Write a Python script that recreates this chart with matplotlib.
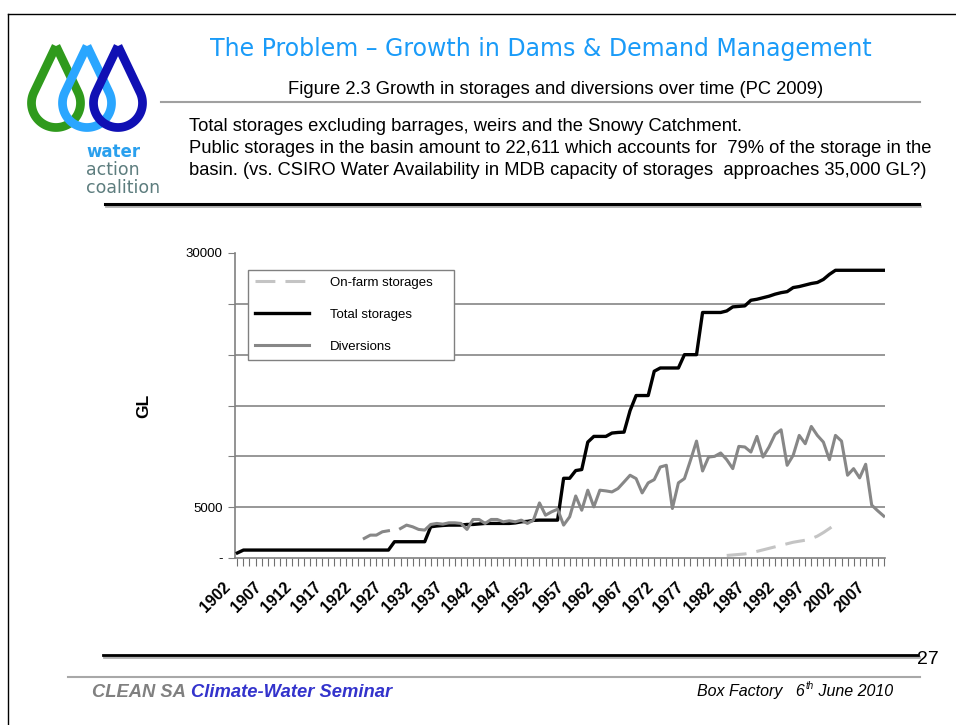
import numpy as np
import matplotlib
matplotlib.use("Agg")
import matplotlib.pyplot as plt
import matplotlib.transforms as mtransforms
from matplotlib.path import Path
from matplotlib.patches import PathPatch

# ---- data (GL) ----
years = np.arange(1902, 2010)

total_storages = [
    500,
    780, 780, 780, 780, 780, 780, 780, 780, 780, 780,          # 1903-1912
    780, 780, 780, 780, 780, 780, 780, 780, 780, 780,          # 1913-1922
    780, 780, 780, 780, 780,                                   # 1923-1927
    1600, 1600, 1600, 1600, 1600, 1600,                        # 1928-1933
    3070, 3150, 3200, 3235, 3235, 3235, 3300,                  # 1934-1940
    3300, 3350, 3400, 3400, 3400, 3400, 3400, 3450, 3560, 3600,  # 1941-1950
    3700, 3725, 3725, 3725, 3725,                              # 1951-1955
    7840, 7840, 8600, 8700, 11400,                             # 1956-1960
    11960, 11960, 11960, 12290, 12350, 12380, 14500, 15980, 15980, 15980,  # 1961-1970
    18370, 18690, 18690, 18690, 18690, 20000, 20000, 20000, 24150, 24150,  # 1971-1980
    24150, 24150, 24300, 24700, 24750, 24800, 25350, 25450, 25600, 25750,  # 1981-1990
    25950, 26100, 26200, 26600, 26700, 26850, 27000, 27100, 27400, 27900,  # 1991-2000
    28300, 28300, 28300, 28300, 28300, 28300, 28300, 28300, 28300,        # 2001-2009
]

div_years = np.arange(1923, 2010)
diversions = [
    1930, 2250, 2250, 2580, 2680, np.nan, 2900,                # 1923-1929
    3235, 3070, 2810, 2745, 3300, 3400, 3330, 3460, 3460, 3400,  # 1930-1939
    2810, 3790, 3790, 3400, 3790, 3790, 3560, 3660, 3560, 3725,  # 1940-1949
    3400, 3725, 5420, 4210, 4540, 4800, 3235, 4050, 6100, 4700,  # 1950-1959
    6670, 5030, 6670, 6600, 6500, 6830, 7480, 8140, 7810, 6400,  # 1960-1969
    7390, 7710, 8950, 9120, 4870, 7390, 7810, 9610, 11500, 8560,  # 1970-1979
    9930, 10000, 10330, 9670, 8790, 10980, 10920, 10420, 11960, 9930,  # 1980-1989
    10920, 12160, 12610, 9120, 10100, 12060, 11240, 12940, 12060, 11400,  # 1990-1999
    9670, 12060, 11500, 8140, 8790, 7880, 9220, 5200, 4640, 4120,  # 2000-2009
]

farm_years = np.arange(1983, 2002)
onfarm_storages = [250, 300, 350, 400, 500, 650, 800, 950, 1100, 1250,
                   1400, 1550, 1650, 1750, 1900, 2150, 2500, 2900, 3330]

label_years = np.arange(1902, 2008, 5)
y_ticks = [0, 5000, 10000, 15000, 20000, 25000, 30000]
y_labels = ['-', '5000', '', '', '', '', '30000']

title = "The Problem \u2013 Growth in Dams & Demand Management"
subtitle = "Figure 2.3 Growth in storages and diversions over time (PC 2009)"
body = ["Total storages excluding barrages, weirs and the Snowy Catchment.",
        "Public storages in the basin amount to 22,611 which accounts for  79% of the storage in the",
        "basin. (vs. CSIRO Water Availability in MDB capacity of storages  approaches 35,000 GL?)"]

arial = 'Liberation Sans'

fig = plt.figure(figsize=(9.56, 7.25), dpi=100)

# slide layer in pixel coordinates
bg = fig.add_axes([0, 0, 1, 1])
bg.set_xlim(0, 956)
bg.set_ylim(725, 0)
bg.axis('off')

bg.plot([8, 8], [14, 725], color='black', lw=1)
bg.plot([8, 956], [14, 14], color='black', lw=1)

# logo: three interlocking drops (y grows downwards here)
def drop(cx, cy, r, tip):
    phi = np.arccos(r / (cy - tip))
    ang = np.linspace(np.pi / 2 - phi, np.pi / 2 + phi - 2 * np.pi, 90)
    xs = np.concatenate([[cx], cx + r * np.cos(ang), [cx]])
    ys = np.concatenate([[tip], cy - r * np.sin(ang), [tip]])
    return Path(np.column_stack([xs, ys]))

for cx, col in [(56, '#2f9a1c'), (87, '#2aa6ff'), (118, '#1010b4')]:
    bg.add_patch(PathPatch(drop(cx, 103, 24.5, 46), fill=False, edgecolor=col,
                           lw=6.3, joinstyle='miter'))

bg.text(86, 157, "water", color='#2aa0ee', fontsize=12, fontweight='bold',
        family='DejaVu Sans', va='baseline')
bg.text(86, 175, "action", color='#5d7d7e', fontsize=12.5, family='DejaVu Sans', va='baseline')
bg.text(86, 193, "coalition", color='#5d7d7e', fontsize=12.5, family='DejaVu Sans', va='baseline')

bg.text(541, 56, title, color='#1a9bf8', fontsize=17, family='DejaVu Sans',
        ha='center', va='baseline')
bg.text(556, 94, subtitle, fontsize=13.2, family=arial, ha='center', va='baseline')
bg.plot([161, 920], [102, 102], color='#a0a0a0', lw=1.5)
for i, line in enumerate(body):
    bg.text(189, 131 + i * 22, line, fontsize=13.2, family=arial, va='baseline')
bg.plot([106, 920], [206, 206], color='#b0b0b0', lw=2)
bg.plot([105, 919], [204, 204], color='black', lw=2.2)

# footer
bg.plot([104, 919], [657, 657], color='#b0b0b0', lw=2)
bg.plot([103, 918], [655, 655], color='black', lw=2)
bg.text(917, 664, "27", fontsize=14, family=['Liberation Sans Narrow', arial], va='baseline')
bg.plot([68, 920], [677, 677], color='#a8a8a8', lw=1.5)
t1 = bg.text(92, 701, "CLEAN SA", color='#808080', fontsize=13.2, fontweight='bold',
             style='italic', family=arial, va='bottom')
bg.annotate("Climate-Water Seminar", xy=(1, 0), xycoords=t1, xytext=(3.5, 0),
            textcoords='offset points', color='#3333cc', fontsize=13.2,
            fontweight='bold', style='italic', family=arial, va='bottom')
t2 = bg.text(697, 699, "Box Factory   6", fontsize=11.5, style='italic', family=arial, va='bottom')
t3 = bg.annotate("th", xy=(1, 0.55), xycoords=t2, xytext=(0.5, 0), textcoords='offset points',
                 fontsize=7, style='italic', family=arial, va='bottom')
bg.annotate(" June 2010", xy=(1, 0), xycoords=(t3, t2), xytext=(0, 0),
            textcoords='offset points', fontsize=11.5, style='italic', family=arial, va='bottom')

# chart
ax = fig.add_axes([235 / 956, 1 - 558 / 725, 650 / 956, 305 / 725])
ax.set_facecolor('none')
ax.set_xlim(1901.6, 2009.2)
ax.set_ylim(0, 30000)

for v in y_ticks[1:-1]:
    ax.axhline(v, color='#858585', lw=1.2, zorder=1)

ax.plot(farm_years, onfarm_storages, color='#c4c4c4', lw=2.2, dashes=(6.5, 3.3),
        label='On-farm storages', zorder=3)
ax.plot(years, total_storages, color='black', lw=2.4, label='Total storages', zorder=3)
ax.plot(div_years, diversions, color='#878787', lw=2.2, label='Diversions', zorder=4)

for s in ['top', 'right']:
    ax.spines[s].set_visible(False)
for s in ['left', 'bottom']:
    ax.spines[s].set_color('#808080')
    ax.spines[s].set_linewidth(1.2)

ax.set_yticks(y_ticks)
ax.set_yticklabels(y_labels, fontsize=9.5, family=arial)
ax.tick_params(axis='y', direction='out', length=5, color='#808080', pad=4)

ax.set_xticks(label_years)
ax.set_xticks(years, minor=True)
ax.set_xticklabels([str(y) for y in label_years], rotation=45, ha='right', va='center',
                   rotation_mode='anchor', fontsize=11.5, fontweight='bold', family=arial)
ax.tick_params(axis='x', which='both', direction='out', length=6, color='#707070',
               width=0.8, pad=13)
shift = mtransforms.ScaledTranslation(-9 / 100, 0, fig.dpi_scale_trans)
for lab in ax.get_xticklabels():
    lab.set_transform(lab.get_transform() + shift)

ax.set_ylabel("GL", fontsize=12.5, fontweight='bold', family=arial)
ax.yaxis.set_label_coords((151 - 235) / 650, 0.5)

leg = ax.legend(loc='upper left', bbox_to_anchor=(0.0205, 0.5, 0.317, 0.444),
                mode='expand', borderaxespad=0, fancybox=False, framealpha=1,
                edgecolor='#808080', prop={'family': arial, 'size': 9.5},
                handlelength=4.1, handletextpad=1.6, labelspacing=1.5, borderpad=0.5)
leg.get_frame().set_linewidth(1)

fig.savefig('out.png', dpi=100)
